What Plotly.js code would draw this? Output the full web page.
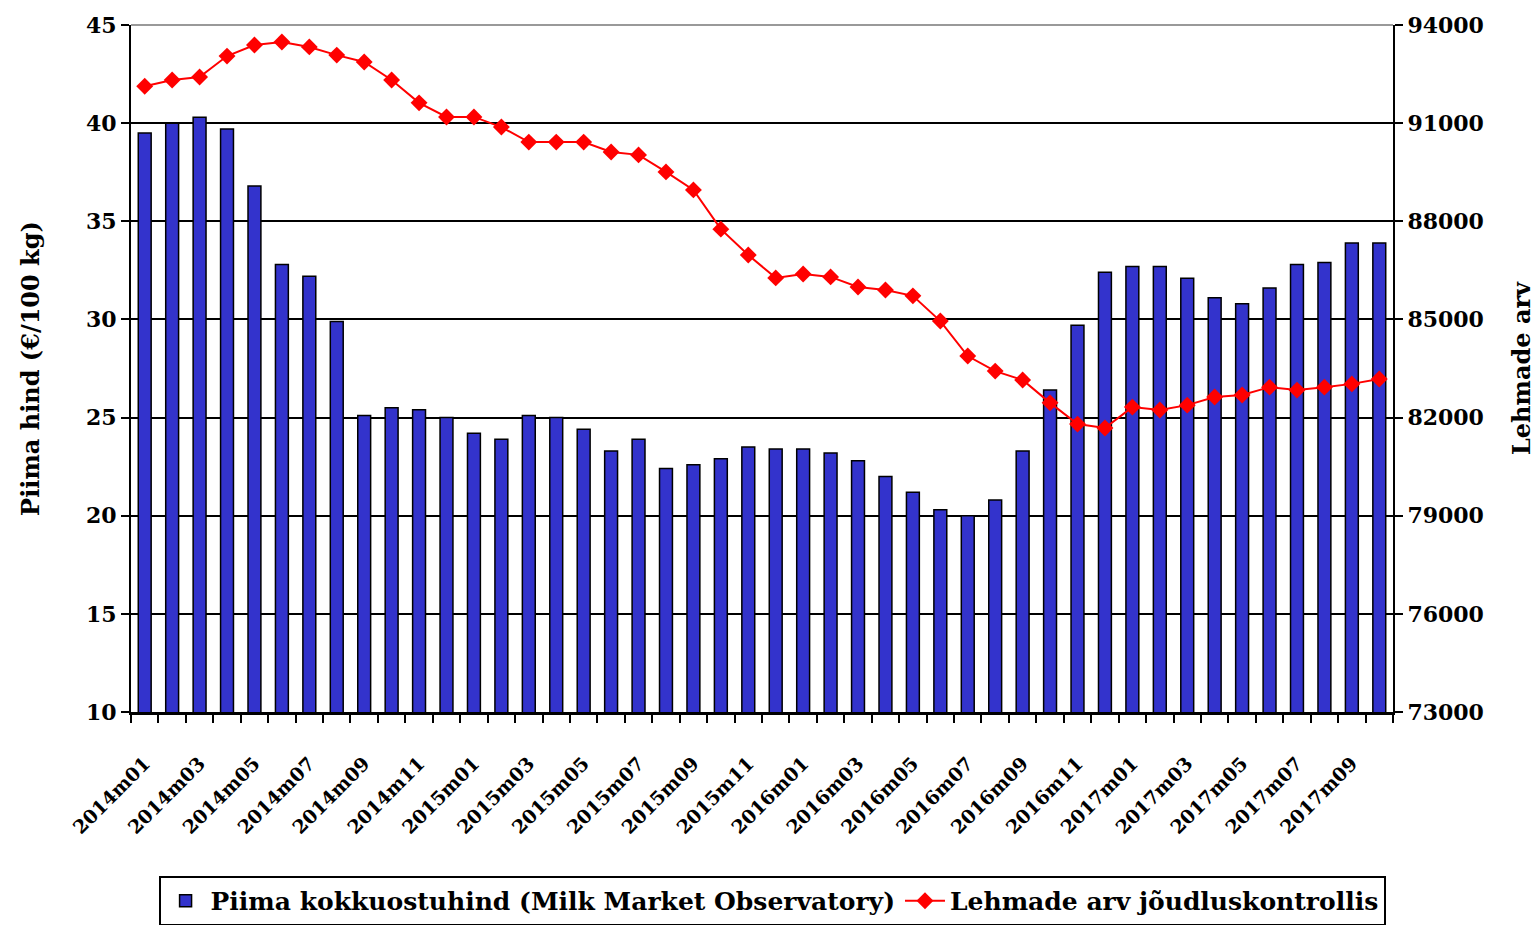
<!DOCTYPE html>
<html>
<head>
<meta charset="utf-8">
<script src="https://cdn.plot.ly/plotly-3.0.1.min.js"></script>
<style>
  html, body { margin: 0; padding: 0; background: #fff; }
  #chart { width: 1538px; height: 925px; }
</style>
</head>
<body>
<div id="chart"></div>
<script>
// kuud 2014m01 ... 2017m10
const months = [
    '2014m01', '2014m02', '2014m03', '2014m04', '2014m05', '2014m06',
    '2014m07', '2014m08', '2014m09', '2014m10', '2014m11', '2014m12',
    '2015m01', '2015m02', '2015m03', '2015m04', '2015m05', '2015m06',
    '2015m07', '2015m08', '2015m09', '2015m10', '2015m11', '2015m12',
    '2016m01', '2016m02', '2016m03', '2016m04', '2016m05', '2016m06',
    '2016m07', '2016m08', '2016m09', '2016m10', '2016m11', '2016m12',
    '2017m01', '2017m02', '2017m03', '2017m04', '2017m05', '2017m06',
    '2017m07', '2017m08', '2017m09', '2017m10'
];

// Piima kokkuostuhind, €/100 kg
const milkPrice = [
    39.5, 40.0, 40.3, 39.7, 36.8, 32.8, 32.2, 29.9, 25.1, 25.5, 25.4, 25.0,
    24.2, 23.9, 25.1, 25.0, 24.4, 23.3, 23.9, 22.4, 22.6, 22.9, 23.5, 23.4,
    23.4, 23.2, 22.8, 22.0, 21.2, 20.3, 20.0, 20.8, 23.3, 26.4, 29.7, 32.4,
    32.7, 32.7, 32.1, 31.1, 30.8, 31.6, 32.8, 32.9, 33.9, 33.9
];

// Lehmade arv jõudluskontrollis
const cowCount = [
    92130, 92320, 92410, 93050, 93390, 93480, 93330, 93080, 92870, 92320, 91620, 91190,
    91190, 90880, 90420, 90420, 90420, 90120, 90030, 89510, 88960, 87760, 86970, 86270,
    86390, 86300, 85990, 85900, 85720, 84950, 83880, 83420, 83150, 82450, 81800, 81680,
    82320, 82230, 82380, 82630, 82690, 82930, 82840, 82930, 83030, 83180
];

// x-telje sildid: iga teine kuu
const tickLabels = months.map((m, i) => (i % 2 === 0 ? m : ''));

const FONT = 'DejaVu Serif, Liberation Serif, serif';

function drawChart() {
    const barTrace = {
        type: 'bar',
        name: 'Piima kokkuostuhind (Milk Market Observatory)',
        x: months,
        y: milkPrice,
        marker: {
            color: '#3333cc',
            line: { color: '#000000', width: 1.5 }
        },
        yaxis: 'y'
    };

    const lineTrace = {
        type: 'scatter',
        mode: 'lines+markers',
        name: 'Lehmade arv jõudluskontrollis',
        x: months,
        y: cowCount,
        line: { color: '#ff0000', width: 2 },
        marker: { symbol: 'diamond', size: 13, color: '#ff0000' },
        yaxis: 'y2'
    };

    const layout = {
        width: 1538,
        height: 925,
        margin: { l: 131, r: 145, t: 25, b: 213, autoexpand: false },
        paper_bgcolor: '#ffffff',
        plot_bgcolor: '#ffffff',
        font: { family: FONT, color: '#000000', weight: 'bold' },
        bargap: 0.53,
        showlegend: true,
        xaxis: {
            type: 'category',
            automargin: false,
            tickmode: 'array',
            tickvals: months,
            ticktext: tickLabels,
            tickson: 'boundaries',
            ticks: 'outside',
            ticklen: 8,
            tickwidth: 2,
            tickcolor: '#000000',
            tickangle: -45,
            ticklabelstandoff: 30,
            tickfont: { family: FONT, size: 19, weight: 'bold' },
            showgrid: false,
            showline: true,
            linecolor: '#000000',
            linewidth: 3,
            range: [-0.5, 45.5],
            fixedrange: true
        },
        yaxis: {
            automargin: false,
            range: [10, 45],
            dtick: 5,
            tick0: 10,
            ticks: 'outside',
            ticklen: 8,
            tickwidth: 2,
            tickcolor: '#000000',
            tickfont: { family: FONT, size: 22, weight: 'bold' },
            showgrid: true,
            gridcolor: '#000000',
            gridwidth: 2,
            zeroline: false,
            showline: true,
            linecolor: '#000000',
            linewidth: 2,
            title: {
                text: 'Piima hind (€/100 kg)',
                font: { family: FONT, size: 24, weight: 'bold' },
                standoff: 40
            },
            fixedrange: true
        },
        yaxis2: {
            automargin: false,
            overlaying: 'y',
            side: 'right',
            range: [73000, 94000],
            dtick: 3000,
            tick0: 73000,
            tickformat: 'd',
            ticks: 'outside',
            ticklen: 8,
            tickwidth: 2,
            tickcolor: '#000000',
            tickfont: { family: FONT, size: 22, weight: 'bold' },
            showgrid: false,
            zeroline: false,
            showline: true,
            linecolor: '#000000',
            linewidth: 2,
            title: {
                text: 'Lehmade arv',
                font: { family: FONT, size: 24, weight: 'bold' },
                standoff: 30
            },
            fixedrange: true
        },
        legend: {
            orientation: 'h',
            xref: 'container',
            yref: 'container',
            x: 0.502,
            xanchor: 'center',
            y: 0.053,
            yanchor: 'top',
            bgcolor: '#ffffff',
            bordercolor: '#000000',
            borderwidth: 2,
            itemwidth: 40,
            font: { family: FONT, size: 25, weight: 'bold' }
        },
        shapes: [{
            // ülemine piirjoon hall
            type: 'line',
            xref: 'paper',
            yref: 'paper',
            x0: 0, x1: 1, y0: 1, y1: 1,
            line: { color: '#999999', width: 2 }
        }]
    };

    Plotly.newPlot('chart', [barTrace, lineTrace], layout, { displayModeBar: false, staticPlot: true });
}

drawChart();
</script>
</body>
</html>
